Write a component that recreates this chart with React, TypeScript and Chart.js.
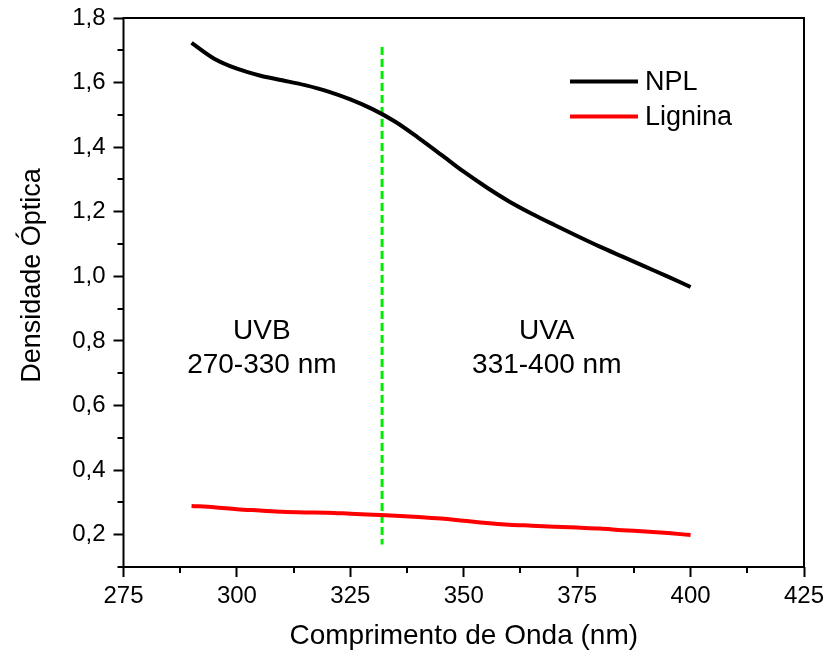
import React, { useEffect, useRef } from 'react';
import { Chart, registerables } from 'chart.js';

Chart.register(...registerables);

// ---- data ----
const wavelengths = [290, 295, 300, 305, 310, 315, 320, 325, 330, 335, 340, 345, 350, 355, 360, 365, 370, 375, 380, 385, 390, 395, 400];
const nplValues = [1.723, 1.674, 1.643, 1.622, 1.607, 1.592, 1.573, 1.548, 1.517, 1.478, 1.429, 1.377, 1.324, 1.276, 1.232, 1.194, 1.159, 1.125, 1.092, 1.061, 1.03, 0.999, 0.967];
const ligninaValues = [0.289, 0.285, 0.279, 0.275, 0.271, 0.269, 0.268, 0.265, 0.262, 0.259, 0.255, 0.25, 0.243, 0.236, 0.231, 0.228, 0.225, 0.222, 0.219, 0.214, 0.21, 0.205, 0.199];
const dividerX = [332, 332];
const dividerY = [1.71, 0.17];

const seriesNames = ['NPL', 'Lignina'];
const seriesColors = ['#000000', '#ff0000'];

const xTickValues = [275, 300, 325, 350, 375, 400, 425];
const xTickLabels = ['275', '300', '325', '350', '375', '400', '425'];
const xMinorTicks = [287.5, 312.5, 337.5, 362.5, 387.5, 412.5];
const yTickValues = [0.2, 0.4, 0.6, 0.8, 1.0, 1.2, 1.4, 1.6, 1.8];
const yTickLabels = ['0,2', '0,4', '0,6', '0,8', '1,0', '1,2', '1,4', '1,6', '1,8'];
const yMinorTicks = [0.1, 0.3, 0.5, 0.7, 0.9, 1.1, 1.3, 1.5, 1.7];

const regionTitles = ['UVB', 'UVA'];
const regionRanges = ['270-330 nm', '331-400 nm'];
const regionX = [305.5, 368.3];
const regionTitleY = 0.829;
const regionRangeY = 0.726;

const xTitle = 'Comprimento de Onda (nm)';
const yTitle = 'Densidade Óptica';

const FONT = "'Liberation Sans', Arial, sans-serif";

const zeroPadding = (scale: any) => {
  scale.paddingTop = 0;
  scale.paddingBottom = 0;
  scale.paddingLeft = 0;
  scale.paddingRight = 0;
};

const decorPlugin = {
  id: 'decor',
  afterDraw(chart: any) {
    const { ctx, chartArea, scales } = chart;
    const xs = scales.x;
    const ys = scales.y;
    ctx.save();
    // box
    ctx.strokeStyle = '#000';
    ctx.lineWidth = 2;
    ctx.strokeRect(chartArea.left, chartArea.top, chartArea.right - chartArea.left, chartArea.bottom - chartArea.top);
    // minor ticks
    ctx.beginPath();
    xMinorTicks.forEach((v) => {
      const px = Math.round(xs.getPixelForValue(v));
      ctx.moveTo(px, chartArea.bottom);
      ctx.lineTo(px, chartArea.bottom + 6);
    });
    yMinorTicks.forEach((v) => {
      const py = Math.round(ys.getPixelForValue(v));
      ctx.moveTo(chartArea.left, py);
      ctx.lineTo(chartArea.left - 6, py);
    });
    ctx.stroke();

    // region labels
    ctx.fillStyle = '#000';
    ctx.font = `28px ${FONT}`;
    ctx.textAlign = 'center';
    ctx.textBaseline = 'middle';
    regionTitles.forEach((t, i) => {
      const px = xs.getPixelForValue(regionX[i]);
      ctx.fillText(t, px, ys.getPixelForValue(regionTitleY));
      ctx.fillText(regionRanges[i], px, ys.getPixelForValue(regionRangeY));
    });

    // legend
    ctx.font = `27px ${FONT}`;
    ctx.textAlign = 'left';
    seriesNames.forEach((name, i) => {
      const y = chartArea.top + 63.5 + i * 35;
      ctx.strokeStyle = seriesColors[i];
      ctx.lineWidth = 4;
      ctx.beginPath();
      ctx.moveTo(chartArea.right - 234, y);
      ctx.lineTo(chartArea.right - 166, y);
      ctx.stroke();
      ctx.fillStyle = '#000';
      ctx.fillText(name, chartArea.right - 159, y + 1);
    });

    // axis titles
    ctx.font = `28px ${FONT}`;
    ctx.textAlign = 'center';
    ctx.textBaseline = 'middle';
    ctx.fillText(xTitle, (chartArea.left + chartArea.right) / 2, 636);
    ctx.font = `27px ${FONT}`;
    ctx.translate(33, 275.5);
    ctx.rotate(-Math.PI / 2);
    ctx.fillText(yTitle, 0, 0);
    ctx.restore();
  },
};

export default function App() {
  const canvasRef = useRef<HTMLCanvasElement | null>(null);

  useEffect(() => {
    const canvas = canvasRef.current;
    if (!canvas) return;
    const chart = new Chart(canvas, {
      type: 'line',
      data: {
        datasets: [
          {
            label: seriesNames[0],
            data: wavelengths.map((x, i) => ({ x, y: nplValues[i] })),
            borderColor: seriesColors[0],
            borderWidth: 4,
            pointRadius: 0,
            cubicInterpolationMode: 'monotone',
            fill: false,
          },
          {
            label: seriesNames[1],
            data: wavelengths.map((x, i) => ({ x, y: ligninaValues[i] })),
            borderColor: seriesColors[1],
            borderWidth: 4,
            pointRadius: 0,
            cubicInterpolationMode: 'monotone',
            fill: false,
          },
          {
            label: 'divisor',
            data: dividerX.map((x, i) => ({ x, y: dividerY[i] })),
            borderColor: '#00ee00',
            borderWidth: 3,
            borderDash: [8, 4],
            pointRadius: 0,
            fill: false,
          },
        ],
      },
      options: {
        responsive: false,
        animation: false,
        layout: { autoPadding: false, padding: { top: 18, right: 24, left: 0, bottom: 0 } },
        plugins: { legend: { display: false }, tooltip: { enabled: false } },
        scales: {
          x: {
            type: 'linear',
            min: 275,
            max: 425,
            border: { display: false },
            grid: { drawOnChartArea: false, drawTicks: true, tickLength: 10, tickWidth: 2, tickColor: '#000' },
            afterBuildTicks: (scale: any) => {
              scale.ticks = xTickValues.map((value) => ({ value }));
            },
            afterFit: (scale: any) => {
              scale.height = 86;
              zeroPadding(scale);
            },
            ticks: {
              color: '#000',
              padding: 5,
              maxRotation: 0,
              autoSkip: false,
              font: { family: FONT, size: 24 },
              callback: (value: any) => xTickLabels[xTickValues.indexOf(Number(value))] ?? '',
            },
          },
          y: {
            type: 'linear',
            min: 0.1,
            max: 1.8,
            border: { display: false },
            grid: { drawOnChartArea: false, drawTicks: true, tickLength: 10, tickWidth: 2, tickColor: '#000' },
            afterBuildTicks: (scale: any) => {
              scale.ticks = yTickValues.map((value) => ({ value }));
            },
            afterFit: (scale: any) => {
              scale.width = 123.5;
              zeroPadding(scale);
            },
            ticks: {
              color: '#000',
              padding: 8,
              autoSkip: false,
              font: { family: FONT, size: 24 },
              callback: (value: any) => {
                const idx = yTickValues.findIndex((v) => Math.abs(v - Number(value)) < 1e-6);
                return idx >= 0 ? yTickLabels[idx] : '';
              },
            },
          },
        },
      },
      plugins: [decorPlugin],
    });
    return () => chart.destroy();
  }, []);

  return (
    <div style={{ width: 828, height: 653 }}>
      <style>{'body{margin:0;overflow:hidden;background:#fff}'}</style>
      <canvas ref={canvasRef} width={828} height={653} style={{ display: 'block' }} />
    </div>
  );
}
